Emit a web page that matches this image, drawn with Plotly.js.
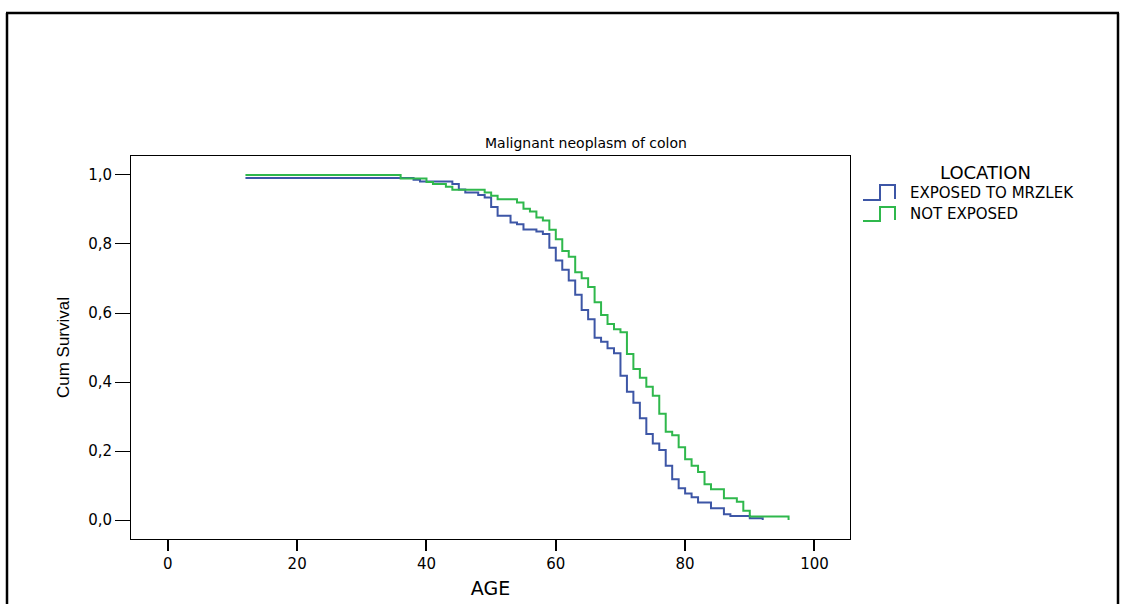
<!DOCTYPE html>
<html>
<head>
<meta charset="utf-8">
<script src="https://cdn.plot.ly/plotly-3.0.1.min.js"></script>
<style>
  html, body { margin: 0; padding: 0; background: #ffffff; }
  #chart { width: 1127px; height: 604px; }
</style>
</head>
<body>
<div id="chart"></div>
<script>
// ---- Data (Kaplan-Meier steps) ----
const chartTitle = "Malignant neoplasm of colon";
const legendTitle = "LOCATION";
const seriesNames = ["EXPOSED TO MRZLEK", "NOT EXPOSED"];

const exposedAge = [12, 38, 39, 44, 45, 46, 48, 49, 50, 51, 53, 54, 55, 57, 58, 59, 60, 61, 62, 63, 64, 65, 66, 67, 68, 69, 70, 71, 72, 73, 74, 75, 76, 77, 78, 79, 80, 81, 82, 84, 86, 87, 90, 92];
const exposedSurv = [0.991, 0.986, 0.981, 0.974, 0.958, 0.949, 0.942, 0.935, 0.907, 0.882, 0.862, 0.857, 0.842, 0.836, 0.829, 0.789, 0.752, 0.725, 0.694, 0.653, 0.609, 0.582, 0.528, 0.517, 0.498, 0.483, 0.418, 0.372, 0.340, 0.295, 0.249, 0.222, 0.203, 0.157, 0.118, 0.092, 0.077, 0.066, 0.051, 0.034, 0.017, 0.012, 0.005, 0.0];

const notExposedAge = [12, 36, 40, 41, 43, 44, 49, 50, 51, 54, 55, 56, 57, 58, 59, 60, 61, 62, 63, 64, 65, 66, 67, 68, 69, 70, 71, 72, 73, 74, 75, 76, 77, 78, 79, 80, 81, 82, 83, 84, 86, 88, 89, 90, 96];
const notExposedSurv = [1.0, 0.990, 0.980, 0.974, 0.966, 0.957, 0.949, 0.940, 0.930, 0.920, 0.902, 0.894, 0.877, 0.868, 0.841, 0.814, 0.780, 0.763, 0.718, 0.701, 0.675, 0.631, 0.594, 0.568, 0.553, 0.544, 0.481, 0.438, 0.412, 0.386, 0.360, 0.308, 0.256, 0.246, 0.211, 0.176, 0.157, 0.139, 0.104, 0.089, 0.063, 0.053, 0.027, 0.010, 0.0];

const xTicks = [0, 20, 40, 60, 80, 100];
const yTicks = [0, 0.2, 0.4, 0.6, 0.8, 1.0];

// ---- Styling ----
const blue = "#3d56a6";
const green = "#2fb84c";
const fontFam = "DejaVu Sans, Liberation Sans, Arial, sans-serif";

// pixel geometry helpers for decorations (plot area 131..850 x, 156..539 y)
const PL = 131, PR = 850, PT = 156, PB = 539;
const px = x => (x - PL) / (PR - PL);
const py = y => (PB - y) / (PB - PT);

const traces = [
  { x: exposedAge, y: exposedSurv, name: seriesNames[0], type: "scatter", mode: "lines",
    line: { shape: "hv", color: blue, width: 2 }, showlegend: false, hoverinfo: "skip" },
  { x: notExposedAge, y: notExposedSurv, name: seriesNames[1], type: "scatter", mode: "lines",
    line: { shape: "hv", color: green, width: 2 }, showlegend: false, hoverinfo: "skip" }
];

function iconPath(yBottom, yTop) {
  return "M " + px(863) + " " + py(yBottom) +
         " L " + px(880) + " " + py(yBottom) +
         " L " + px(880) + " " + py(yTop) +
         " L " + px(895) + " " + py(yTop) +
         " L " + px(895) + " " + py(yBottom - 1);
}

const layout = {
  width: 1127, height: 604,
  margin: { l: PL, r: 1127 - PR, t: PT, b: 604 - PB, pad: 0 },
  paper_bgcolor: "#ffffff", plot_bgcolor: "#ffffff",
  separators: ", ",
  showlegend: false,
  font: { family: fontFam, color: "#000000" },
  xaxis: {
    range: [-5.7, 105.5], tickvals: xTicks, ticks: "outside", ticklen: 11, tickwidth: 2,
    tickcolor: "#000", showline: true, mirror: true, linecolor: "#000", linewidth: 1,
    showgrid: false, zeroline: false, tickfont: { size: 15, family: fontFam },
    title: { text: "AGE", font: { size: 19, family: fontFam }, standoff: 9 }
  },
  yaxis: {
    range: [-0.055, 1.055], tickvals: yTicks, tickformat: ".1f", ticks: "outside", ticklen: 15, tickwidth: 1,
    tickcolor: "#000", showline: true, mirror: true, linecolor: "#000", linewidth: 1,
    showgrid: false, zeroline: false, tickfont: { size: 15, family: fontFam },
    title: { text: "Cum Survival", font: { size: 17, family: "Liberation Sans, Arial, sans-serif" }, standoff: 14 }
  },
  annotations: [
    { text: chartTitle, xref: "paper", yref: "paper", x: px(586), y: py(143), xanchor: "center", yanchor: "middle",
      showarrow: false, font: { size: 14, family: fontFam } },
    { text: legendTitle, xref: "paper", yref: "paper", x: px(986), y: py(172), xanchor: "center", yanchor: "middle",
      showarrow: false, font: { size: 18, family: fontFam } },
    { text: seriesNames[0], xref: "paper", yref: "paper", x: px(908), y: py(193), xanchor: "left", yanchor: "middle",
      showarrow: false, font: { size: 15, family: fontFam } },
    { text: seriesNames[1], xref: "paper", yref: "paper", x: px(908), y: py(214), xanchor: "left", yanchor: "middle",
      showarrow: false, font: { size: 15, family: fontFam } }
  ],
  shapes: [
    // outer frame
    { type: "line", xref: "paper", yref: "paper", x0: px(7), y0: py(13), x1: px(7), y1: py(610), line: { color: "#000", width: 2.5 } },
    { type: "line", xref: "paper", yref: "paper", x0: px(6), y0: py(13), x1: px(1119), y1: py(13), line: { color: "#000", width: 2.5 } },
    { type: "line", xref: "paper", yref: "paper", x0: px(1118), y0: py(13), x1: px(1118), y1: py(610), line: { color: "#000", width: 2.5 } },
    // legend icons
    { type: "path", xref: "paper", yref: "paper", path: iconPath(200, 185), line: { color: blue, width: 2 } },
    { type: "path", xref: "paper", yref: "paper", path: iconPath(221, 207), line: { color: green, width: 2 } }
  ]
};

Plotly.newPlot("chart", traces, layout, { displayModeBar: false, staticPlot: true });
</script>
</body>
</html>
